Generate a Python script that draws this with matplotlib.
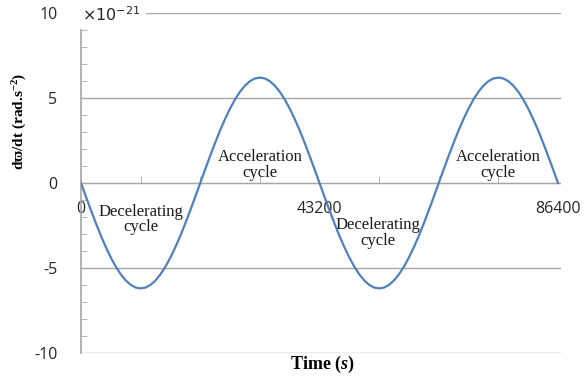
import matplotlib
matplotlib.use("Agg")
import matplotlib.pyplot as plt
from matplotlib.ticker import MultipleLocator, FixedLocator

plt.rcParams["mathtext.fontset"] = "custom"
plt.rcParams["mathtext.rm"] = "Liberation Serif:bold"
plt.rcParams["mathtext.it"] = "Liberation Serif:italic:bold"
plt.rcParams["mathtext.bf"] = "Liberation Serif:bold"
plt.rcParams["axes.unicode_minus"] = False

# time in seconds, one sample every 900 s over a day
t = [i * 900 for i in range(97)]
# dw/dt in units of 1e-21 rad/s^2 over one half cycle (21600 s)
half = [0.0, 0.81, 1.60, 2.37, 3.10, 3.77, 4.38, 4.92, 5.37, 5.73, 5.99, 6.15,
        6.20, 6.15, 5.99, 5.73, 5.37, 4.92, 4.38, 3.77, 3.10, 2.37, 1.60, 0.81]
dw = ([-v for v in half] + half) * 2 + [0.0]

xticks = [0, 43200, 86400]
xticklabels = ["0", "43200", "86400"]
yticks = [-10, -5, 0, 5, 10]

notes = [
    ("Decelerating\ncycle", 10900, -2.15),
    ("Acceleration\ncycle", 32400, 1.05),
    ("Decelerating\ncycle", 53800, -2.95),
    ("Acceleration\ncycle", 75500, 1.05),
]

grey = "#a6a6a6"
fig = plt.figure(figsize=(5.86, 3.76), dpi=100)
ax = fig.add_axes([81 / 586, 1 - 353 / 376, 480 / 586, 340 / 376])

ax.plot(t, dw, color="#4f81bd", lw=1.6, zorder=3)

ax.set_xlim(0, 86400 * 480 / 477)
ax.set_ylim(-10, 10)

ax.set_yticks(yticks)
ax.yaxis.set_minor_locator(MultipleLocator(1))
ax.yaxis.grid(True, color=grey, lw=1.0)
ax.set_axisbelow(True)

ax.set_xticks(xticks)
ax.set_xticklabels(xticklabels)
ax.xaxis.set_minor_locator(FixedLocator([10800 * k for k in range(9)]))

for s in ["top", "right"]:
    ax.spines[s].set_visible(False)
ax.spines["bottom"].set_position(("data", 0))
ax.spines["bottom"].set_bounds(0, 86400)
ax.spines["bottom"].set_color(grey)
ax.spines["left"].set_color(grey)
ax.spines["left"].set_linewidth(1.2)

ax.tick_params(axis="y", which="major", length=0, pad=17)
ax.tick_params(axis="y", which="minor", direction="in", length=4, color=grey)
ax.tick_params(axis="x", which="major", length=0, pad=13)
ax.tick_params(axis="x", which="minor", direction="in", length=5, color=grey)
for lab in ax.get_xticklabels() + ax.get_yticklabels():
    lab.set_family(["Open Sans", "DejaVu Sans"])
    lab.set_fontsize(11.5)
    lab.set_color("#262626")

for txt, x, y in notes:
    ax.text(x, y, txt, ha="center", va="center", family="Liberation Serif",
            fontsize=12, linespacing=0.95, color="#1a1a1a", zorder=4)

ax.text(0.002, 0.968, r"$\times10^{-21}$", transform=ax.transAxes,
        ha="left", va="bottom", fontsize=11.5, color="#262626",
        math_fontfamily="dejavusans", zorder=5,
        bbox=dict(facecolor="white", edgecolor="none", pad=4))

fig.text(20 / 586, 1 - 121 / 376, "d\u03d6/dt (rad.s$^{-2}$)", rotation=90,
         ha="center", va="center", family=["Liberation Serif", "DejaVu Serif"],
         fontweight="bold", fontsize=11)
fig.text(322 / 586, 1 - 364 / 376, r"Time ($s$)", ha="center", va="center",
         family="Liberation Serif", fontweight="bold", fontsize=13)

fig.savefig("out.png", dpi=100)
